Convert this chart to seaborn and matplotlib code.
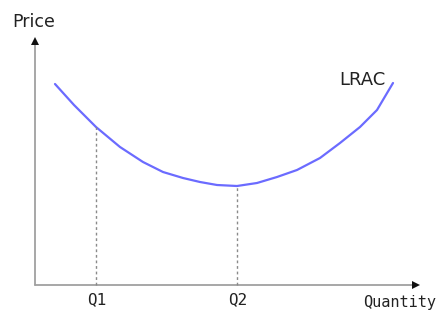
import matplotlib.pyplot as plt
import seaborn as sns
import pandas as pd

# long run average cost curve (arbitrary units)
quantity = [20, 39, 61, 85, 108, 128, 148, 165, 182, 202, 222, 242, 262,
            285, 305, 325, 342, 358]
cost = [201, 180, 158, 138, 123, 113, 107, 103, 100, 99, 102, 108, 115,
        127, 142, 158, 175, 202]

q_marks = [61, 202]
q_cost = [158, 99]
q_labels = ['Q1', 'Q2']


def main():
    sns.set_style('white')
    fig = plt.figure(figsize=(4.43, 3.11), dpi=100)
    ax = fig.add_axes([0, 0, 1, 1])

    lrac = pd.DataFrame({'Quantity': quantity, 'Price': cost})
    sns.lineplot(data=lrac, x='Quantity', y='Price', ax=ax,
                 color='#6b6bff', lw=1.6, sort=False)

    # dotted guides down to the axis
    for q, c, lab in zip(q_marks, q_cost, q_labels):
        ax.plot([q, q], [0, c], color='#8a8a8a', lw=1, ls=(0, (2, 2)))
        ax.text(q + 1, -15, lab, ha='center', va='center', fontsize=11.5,
                family='DejaVu Sans Mono', color='#222222')

    # axes with arrowheads
    ax.plot([0, 0], [0, 243], color='#a0a0a0', lw=1.3, zorder=1)
    ax.plot([0, 380], [0, 0], color='#a0a0a0', lw=1.3, zorder=1)
    ax.plot(0, 244, marker='^', color='#111111', ms=6, mew=0)
    ax.plot(381, 0, marker='>', color='#111111', ms=6, mew=0)

    ax.text(-1.5, 263, 'Price', ha='center', va='center', fontsize=12.5,
            color='#222222')
    ax.text(327, 205, 'LRAC', ha='center', va='center', fontsize=13,
            color='#222222')
    ax.text(365, -17, 'Quantity', ha='center', va='center', fontsize=11,
            family='DejaVu Sans Mono', color='#222222')

    ax.set_xlim(-35, 408)
    ax.set_ylim(-26, 285)
    ax.set_axis_off()
    fig.savefig('out.png', dpi=100)


if __name__ == '__main__':
    main()
